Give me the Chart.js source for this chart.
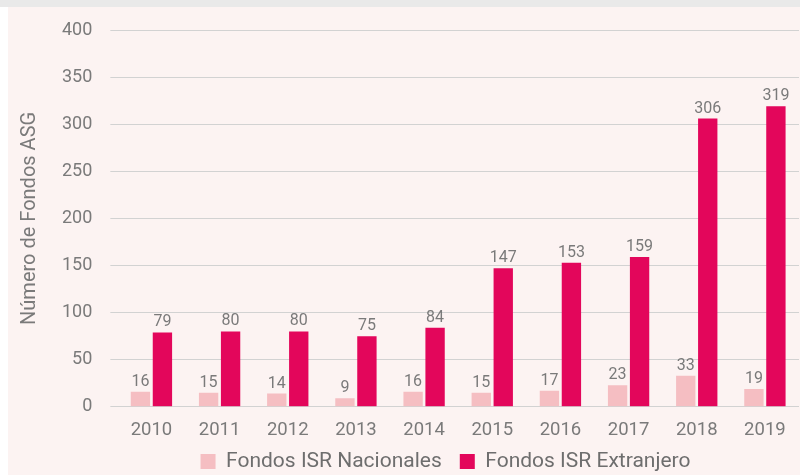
<!DOCTYPE html>
<html>
<head>
<meta charset="utf-8">
<script src="https://cdn.jsdelivr.net/npm/chart.js@4/dist/chart.umd.min.js"></script>
<style>
  html, body { margin: 0; padding: 0; width: 800px; height: 475px; overflow: hidden; background: #fff; }
  #strip { position: absolute; left: 0; top: 0; width: 800px; height: 7px; background: #e9e9e9; }
  #panel { position: absolute; left: 8px; top: 7px; right: 0; bottom: 0; background: #fcf3f2; }
  #wrap { position: absolute; left: 0; top: 0; width: 800px; height: 502px; }
</style>
</head>
<body>
<div id="strip"></div>
<div id="panel"></div>
<div id="wrap"><canvas id="myChart" width="800" height="502"></canvas></div>
<script>
const years = ["2010", "2011", "2012", "2013", "2014", "2015", "2016", "2017", "2018", "2019"];
const nacionales = [16, 15, 14, 9, 16, 15, 17, 23, 33, 19];
const extranjero = [79, 80, 80, 75, 84, 147, 153, 159, 306, 319];
const yTicks = [0, 50, 100, 150, 200, 250, 300, 350, 400];

const textGray = "#7a7a7a";

// numbers above the bars
const valueLabels = {
  id: "valueLabels",
  afterDatasetsDraw(chart) {
    const ctx = chart.ctx;
    ctx.save();
    ctx.font = "16px Roboto";
    ctx.fillStyle = textGray;
    ctx.textAlign = "center";
    ctx.textBaseline = "alphabetic";
    chart.data.datasets.forEach((ds, i) => {
      chart.getDatasetMeta(i).data.forEach((bar, j) => {
        ctx.fillText(ds.data[j], bar.x, bar.y - 6);
      });
    });
    ctx.restore();
  }
};

// legend sits a bit right of the canvas centre in the original
const legendShift = {
  id: "legendShift",
  afterLayout(chart) {
    const l = chart.legend;
    l.left += 46; l.right += 46;
    l.top -= 20; l.bottom -= 20;
  }
};

let ctx = document.getElementById("myChart").getContext("2d");
let chart = new Chart(ctx, {
  type: "bar",
  data: {
    labels: years,
    datasets: [
      {
        label: "Fondos ISR Nacionales",
        data: nacionales,
        backgroundColor: "#f5bec2"
      },
      {
        label: "Fondos ISR Extranjero",
        data: extranjero,
        backgroundColor: "#e3065b"
      }
    ]
  },
  options: {
    responsive: false,
    animation: false,
    categoryPercentage: 0.645,
    barPercentage: 0.88,
    layout: { padding: { top: 30, left: 0, right: 1, bottom: 0 } },
    plugins: {
      tooltip: { enabled: false },
      legend: {
        position: "bottom",
        labels: {
          boxWidth: 15,
          boxHeight: 15,
          padding: 18,
          color: "#6e6e6e",
          font: { family: "Roboto", size: 21 }
        }
      }
    },
    scales: {
      x: {
        grid: { display: false, drawTicks: false },
        border: { display: false },
        ticks: { color: textGray, padding: 12, font: { family: "Roboto", size: 18.5 } }
      },
      y: {
        min: yTicks[0],
        max: yTicks[yTicks.length - 1],
        afterBuildTicks(scale) {
          scale.ticks = yTicks.map(v => ({ value: v }));
        },
        grid: { color: "#d2d2d2", tickLength: 7 },
        border: { display: false },
        ticks: { color: textGray, padding: 18, font: { family: "Roboto", size: 18 } },
        title: {
          display: true,
          text: "Número de Fondos ASG",
          color: textGray,
          padding: { top: 18, bottom: 2 },
          font: { family: "Roboto", size: 20 }
        }
      }
    }
  },
  plugins: [valueLabels, legendShift]
});
</script>
</body>
</html>
